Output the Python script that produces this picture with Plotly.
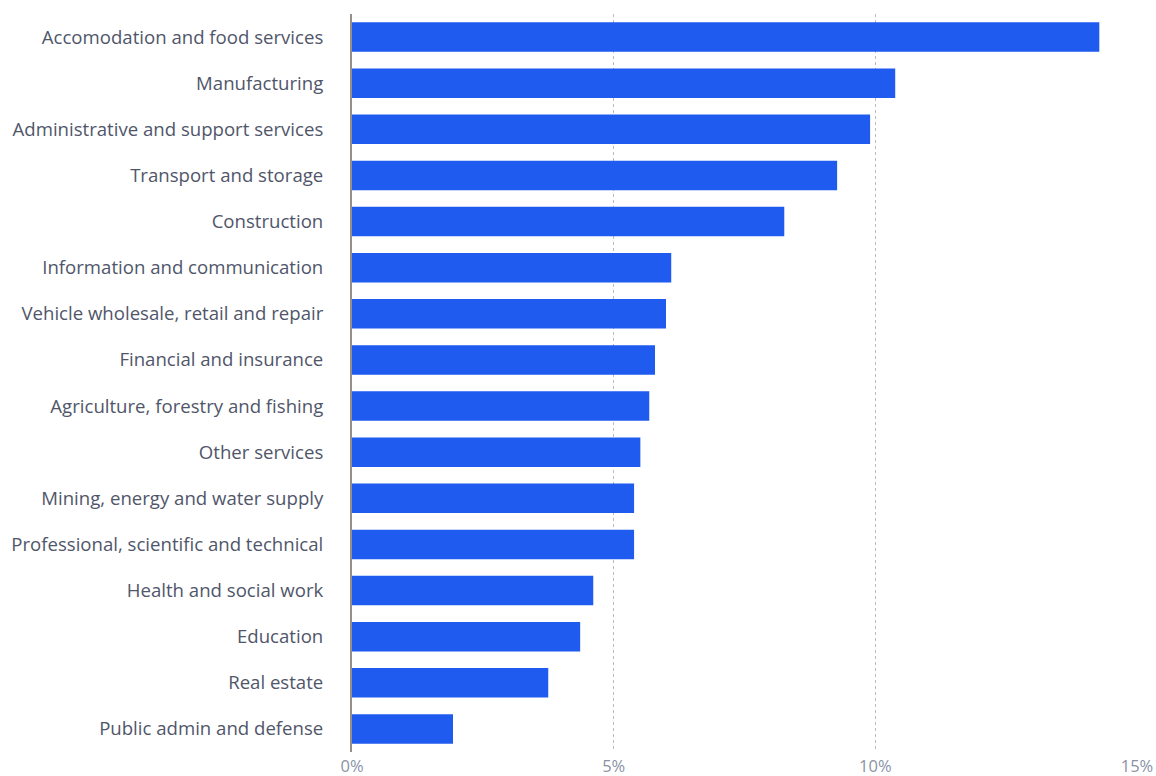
import plotly.graph_objects as go

categories = [
    "Accomodation and food services",
    "Manufacturing",
    "Administrative and support services",
    "Transport and storage",
    "Construction",
    "Information and communication",
    "Vehicle wholesale, retail and repair",
    "Financial and insurance",
    "Agriculture, forestry and fishing",
    "Other services",
    "Mining, energy and water supply",
    "Professional, scientific and technical",
    "Health and social work",
    "Education",
    "Real estate",
    "Public admin and defense",
]
values = [14.28, 10.38, 9.90, 9.27, 8.26, 6.10, 6.00, 5.79, 5.68, 5.51, 5.39, 5.39, 4.61, 4.36, 3.75, 1.93]
tick_vals = [0, 5, 10, 15]
tick_text = ["0%", "5%", "10%", "15%"]

fig = go.Figure(go.Bar(
    x=values, y=categories, orientation="h",
    marker=dict(color="#1F5BEF", line=dict(width=0)),
    hoverinfo="x+y",
))

fig.update_layout(
    width=1156, height=776,
    margin=dict(l=352, r=19, t=14, b=24),
    paper_bgcolor="white", plot_bgcolor="white",
    font=dict(family="Open Sans", size=18.6, color="#50566a"),
    bargap=0.36,
    showlegend=False,
)
fig.update_xaxes(
    range=[0, 15], tickvals=tick_vals, ticktext=tick_text,
    showgrid=True, gridcolor="#b8bcc4", griddash="dot", gridwidth=1,
    zeroline=False, showline=False, ticks="", automargin=False,
    tickfont=dict(size=16.5, color="#8a93a6"), ticklabelstandoff=2,
)
fig.update_yaxes(
    categoryorder="array", categoryarray=categories[::-1],
    showline=True, linecolor="#9a8f86", linewidth=2,
    showgrid=False, ticks="", ticklabelstandoff=23, automargin=False,
)
fig.write_html("out.html")
